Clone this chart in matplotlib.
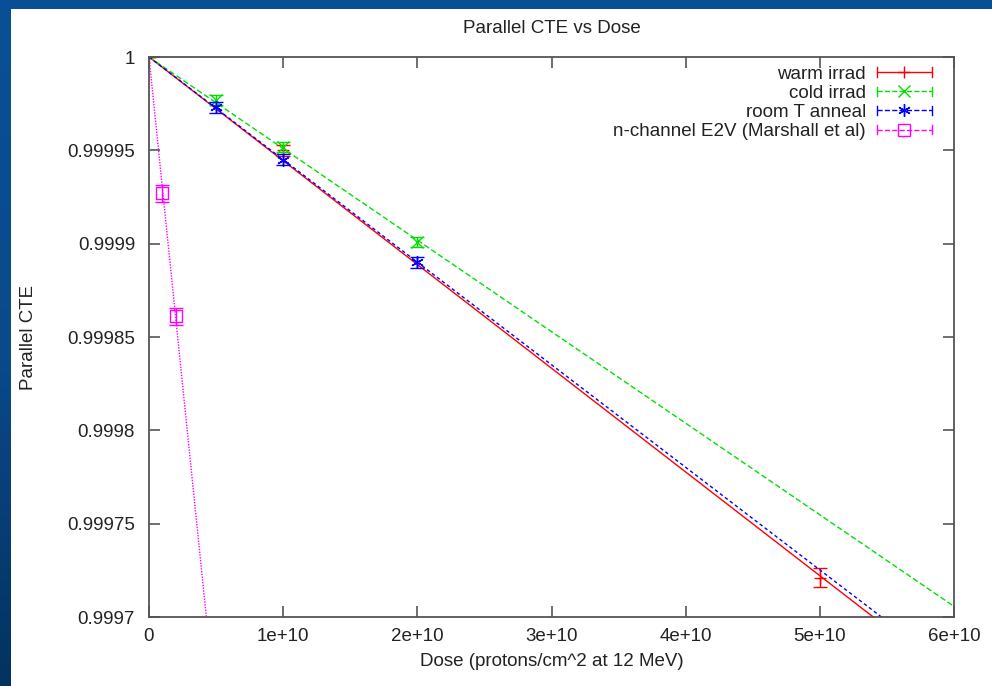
import numpy as np
import matplotlib
matplotlib.use("Agg")
import matplotlib.pyplot as plt
from matplotlib.lines import Line2D
from matplotlib.legend_handler import HandlerBase
from matplotlib.ticker import FuncFormatter, MultipleLocator

plt.rcParams['font.family'] = ['Liberation Sans', 'DejaVu Sans']

# ---- measurements (dose in protons/cm^2 at 12 MeV, parallel CTE) ----
warm_dose = [0.0, 1e10, 5e10]
warm_cte = [1.0, 0.999950, 0.999721]
warm_err = [0.0, 3e-6, 5e-6]

cold_dose = [5e9, 1e10, 2e10]
cold_cte = [0.999977, 0.999952, 0.999901]
cold_err = [2.7e-6, 2.7e-6, 2.7e-6]

anneal_dose = [5e9, 1e10, 2e10]
anneal_cte = [0.999973, 0.999945, 0.999890]
anneal_err = [3e-6, 3e-6, 3e-6]

e2v_dose = [1e9, 2e9]
e2v_cte = [0.999927, 0.999861]
e2v_err = [4.5e-6, 4.7e-6]

labels = ["warm irrad", "cold irrad", "room T anneal",
          "n-channel E2V (Marshall et al)"]
x_ticks = [0, 1e10, 2e10, 3e10, 4e10, 5e10, 6e10]

series = [
    (warm_dose, warm_cte, warm_err, '#ff0000', '-', '+'),
    (cold_dose, cold_cte, cold_err, '#00e000', (0, (4, 2)), 'x'),
    (anneal_dose, anneal_cte, anneal_err, '#0000ff', (0, (2.5, 2)), (6, 2, 0)),
    (e2v_dose, e2v_cte, e2v_err, '#ff00ff', (0, (1, 1)), 's'),
]


def cte_fit_slope(dose, cte):
    """Least-squares slope of (1 - CTE) vs dose, constrained through CTE=1 at zero."""
    d = np.asarray(dose)
    loss = 1.0 - np.asarray(cte)
    return np.sum(d * loss) / np.sum(d * d)


class GnuplotKeyHandler(HandlerBase):
    """Key sample: line with end bars and the point symbol in the middle."""

    def create_artists(self, legend, orig, xdescent, ydescent, width, height,
                       fontsize, trans):
        y = height / 2 - ydescent
        x0, x1 = -xdescent, -xdescent + width
        col = orig.get_color()
        ls = orig.get_linestyle()
        line = Line2D([x0, x1], [y, y], color=col, linestyle=ls, lw=1.0)
        bh = height * 0.35
        lbar = Line2D([x0, x0], [y - bh, y + bh], color=col, lw=1.0)
        rbar = Line2D([x1, x1], [y - bh, y + bh], color=col, lw=1.0)
        mk = Line2D([(x0 + x1) / 2], [y], color=col, marker=orig.get_marker(),
                    markersize=9, markerfacecolor='none', markeredgecolor=col,
                    linestyle='none', markeredgewidth=1.0)
        arts = [line, lbar, rbar, mk]
        for a in arts:
            a.set_transform(trans)
        return arts


W, H = 992, 686
fig = plt.figure(figsize=(W / 100, H / 100), dpi=100)

# slide background: blue band on the top and left, white page elsewhere
bg = fig.add_axes([0, 0, 1, 1], zorder=-10)
grad = np.linspace(0, 1, 256).reshape(-1, 1)
bg.imshow(grad, aspect='auto', extent=[0, 1, 0, 1], origin='upper',
          cmap=matplotlib.colors.LinearSegmentedColormap.from_list(
              'slide', ['#0a4f96', '#0b4a8c', '#03335f']))
bg.add_patch(plt.Rectangle((11 / W, 0), 1, 1 - 9 / H, color='white', lw=0))
bg.set_xlim(0, 1)
bg.set_ylim(0, 1)
bg.axis('off')

ax = fig.add_axes([149 / W, 1 - 617 / H, (954 - 149) / W, (617 - 57) / H])
ax.set_facecolor('white')

xfit = np.array([0.0, 6e10])
handles = []
for (dose, cte, err, col, ls, mk), lab in zip(series, labels):
    k = cte_fit_slope(dose, cte)
    ax.plot(xfit, 1.0 - k * xfit, color=col, linestyle=ls, lw=1.0)
    ax.errorbar(dose, cte, yerr=err, fmt='none', ecolor=col, elinewidth=1.0,
                capsize=5, capthick=1.0)
    ax.plot(dose, cte, linestyle='none', marker=mk, markersize=9,
            markerfacecolor='none', markeredgecolor=col, markeredgewidth=1.0)
    handles.append(Line2D([], [], color=col, linestyle=ls, marker=mk))

ax.set_xlim(0, 6e10)
ax.set_ylim(0.9997, 1.0)
ax.set_xticks(x_ticks)
ax.yaxis.set_major_locator(MultipleLocator(0.00005))
fmt = FuncFormatter(lambda v, p: '%g' % round(v, 6))
ax.xaxis.set_major_formatter(fmt)
ax.yaxis.set_major_formatter(fmt)

for sp in ax.spines.values():
    sp.set_color('#555555')
    sp.set_linewidth(1.3)
ax.tick_params(direction='in', length=8, width=1.2, color='#555555',
               top=True, right=True, labelsize=13.5, labelcolor='#222222')
ax.tick_params(axis='x', pad=8)
ax.tick_params(axis='y', pad=10)

ax.set_title("Parallel CTE vs Dose", fontsize=13.5, color='#222222', pad=17)
ax.set_xlabel("Dose (protons/cm^2 at 12 MeV)", fontsize=13.5, color='#222222',
              labelpad=6)
ax.set_ylabel("Parallel CTE", fontsize=13.5, color='#222222', labelpad=22)

leg = ax.legend(handles, labels, loc='upper right', frameon=False,
                markerfirst=False, fontsize=13.5, handlelength=2.9,
                handletextpad=0.6, labelspacing=0.11, borderaxespad=0.05,
                bbox_to_anchor=(1 - 14 / 805, 1.0),
                handler_map={h: GnuplotKeyHandler() for h in handles})
for t in leg.get_texts():
    t.set_color('#222222')

fig.savefig("out.png", dpi=100)
